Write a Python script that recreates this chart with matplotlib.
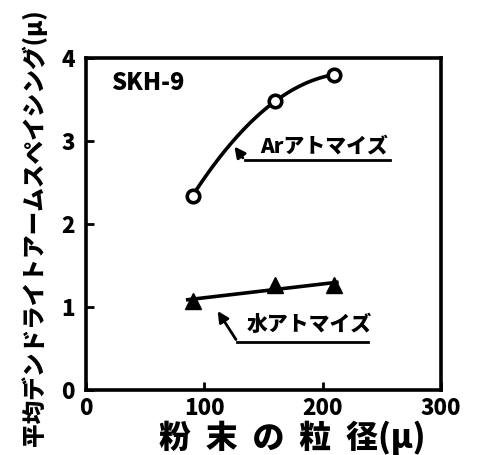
import matplotlib
matplotlib.use("Agg")
import matplotlib.pyplot as plt
import numpy as np

plt.rcParams['font.family'] = ['Noto Sans CJK JP', 'DejaVu Sans']

# data
ar_size = [90, 160, 210]
ar_spacing = [2.34, 3.48, 3.80]
water_size = [90, 160, 210]
water_spacing = [1.07, 1.27, 1.26]

x_ticks = [0, 100, 200, 300]
y_ticks = [0, 1, 2, 3, 4]

fig = plt.figure(figsize=(4.78, 4.55), dpi=100)
ax = fig.add_axes([86 / 478, 65 / 455, 355 / 478, 332 / 455])

# Ar curve: smooth quadratic through the three points
c = np.polyfit(ar_size, ar_spacing, 2)
xs = np.linspace(ar_size[0], ar_size[-1], 100)
ax.plot(xs, np.polyval(c, xs), color='black', lw=2.6, zorder=2)
ax.plot(ar_size, ar_spacing, 'o', ms=9, mfc='white', mec='black', mew=2.6, zorder=3)

# water: straight fitted line
w = np.polyfit(water_size, water_spacing, 1)
xw = np.array([86, 212])
ax.plot(xw, np.polyval(w, xw), color='black', lw=2.6, zorder=2)
ax.plot(water_size, water_spacing, '^', ms=11, color='black', zorder=3)

ax.set_xlim(0, 300)
ax.set_ylim(0, 4)
ax.set_xticks(x_ticks)
ax.set_yticks(y_ticks)
ax.tick_params(direction='in', length=6, width=2, labelsize=16, pad=5)
ax.tick_params(axis='y', pad=8)
for lab in ax.get_xticklabels() + ax.get_yticklabels():
    lab.set_fontweight('heavy')
for s in ax.spines.values():
    s.set_linewidth(2.6)

ax.text(21, 3.70, 'SKH-9', fontsize=17, fontweight='heavy', va='center')

# Ar label with underline and arrow
ax.text(147, 2.93, 'Arアトマイズ', fontsize=15, fontweight='heavy', va='center')
ax.plot([134, 257], [2.77, 2.77], color='black', lw=2)
ax.annotate('', xy=(124, 2.96), xytext=(134, 2.77),
            arrowprops=dict(arrowstyle='-|>', color='black', lw=2, mutation_scale=16))

# water label with underline and arrow
ax.text(136, 0.78, '水アトマイズ', fontsize=15, fontweight='heavy', va='center')
ax.plot([128, 238], [0.58, 0.58], color='black', lw=2)
ax.annotate('', xy=(110, 0.98), xytext=(128, 0.58),
            arrowprops=dict(arrowstyle='-|>', color='black', lw=2, mutation_scale=16))

fig.text(34 / 478, 1 - 228 / 455, '平均デンドライトアームスペイシング(μ)', rotation=90,
         fontsize=17, fontweight='heavy', ha='center', va='center')
fig.text(292 / 478, 1 - 438 / 455, '粉  末  の  粒  径(μ)', fontsize=23,
         fontweight='heavy', ha='center', va='center')

fig.savefig('out.png', dpi=100)
